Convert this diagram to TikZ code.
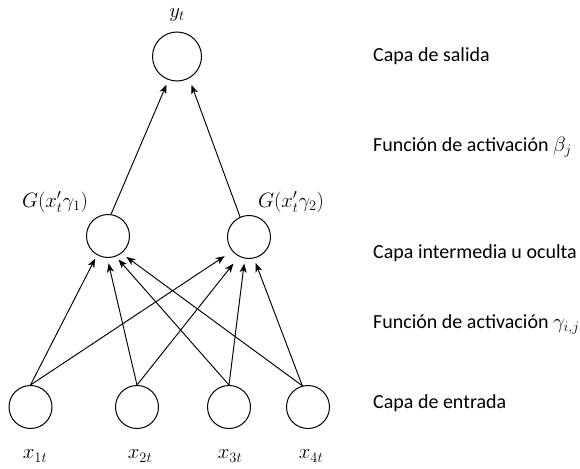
\documentclass[tikz,border=0pt]{standalone}
\usepackage{fontspec}
\setmainfont{Carlito}
\usetikzlibrary{arrows.meta}
\begin{document}
\begin{tikzpicture}[x=1pt,y=-1pt,
  neuron/.style={circle,draw,line width=1pt,minimum size=43pt,inner sep=0pt},
  bigneuron/.style={neuron,minimum size=49pt},
  conn/.style={-{Stealth[length=9pt,width=7pt,inset=2.5pt]},line width=0.95pt},
  mlbl/.style={font=\fontsize{20}{24}\selectfont,inner sep=0pt},
  xlbl/.style={font=\fontsize{22}{26}\selectfont,inner sep=0pt},
  layer/.style={font=\fontsize{20}{24}\selectfont,anchor=base west,inner sep=0pt}]
\useasboundingbox (0,0) rectangle (580,468);

% nodes
\node[bigneuron] (out) at (177,56.5) {};
\node[neuron] (h1) at (108,236) {};
\node[neuron] (h2) at (249,237) {};
\node[neuron] (x1) at (30.5,407) {};
\node[neuron] (x2) at (137,407) {};
\node[neuron] (x3) at (229,407) {};
\node[neuron] (x4) at (308,407) {};

% labels
\node[mlbl] (ly) at (177,15) {$y_t$};
\node[mlbl] (lg1) at (55,202) {$G(x_t'\gamma_1)$};
\node[mlbl] (lg2) at (291,202) {$G(x_t'\gamma_2)$};
\node[xlbl] (lx1) at (35,456) {$x_{1t}$};
\node[xlbl] (lx2) at (140,456) {$x_{2t}$};
\node[xlbl] (lx3) at (230,456) {$x_{3t}$};
\node[xlbl] (lx4) at (311,456) {$x_{4t}$};

% layer descriptions
\node[layer] (t1) at (373,62) {Capa de salida};
\node[layer] (t2) at (373,151) {Función de activación $\beta_j$};
\node[layer] (t3) at (373,258) {Capa intermedia u oculta};
\node[layer] (t4) at (373,328) {Función de activación $\gamma_{i,j}$};
\node[layer] (t5) at (373,408) {Capa de entrada};

% connections hidden -> output
\draw[conn, shorten >=5pt] (h1.82) -- (out.-110);
\draw[conn, shorten >=7pt] (h2.114) -- (out.-61);

% connections input -> hidden 1
\draw[conn, shorten >=4pt] (x1.north) -- (h1.-120);
\draw[conn, shorten >=5.5pt] (x2.north) -- (h1.-92);
\draw[conn, shorten >=4pt] (x3.north) -- (h1.-69);
\draw[conn, shorten >=6pt] (x4.105) -- (h1.-52);

% connections input -> hidden 2
\draw[conn, shorten >=9pt] (x1.north) -- (h2.-140);
\draw[conn, shorten >=9pt] (x2.north) -- (h2.-117);
\draw[conn, shorten >=5pt] (x3.north) -- (h2.-101);
\draw[conn, shorten >=5pt] (x4.105) -- (h2.-77);
\end{tikzpicture}
\end{document}
